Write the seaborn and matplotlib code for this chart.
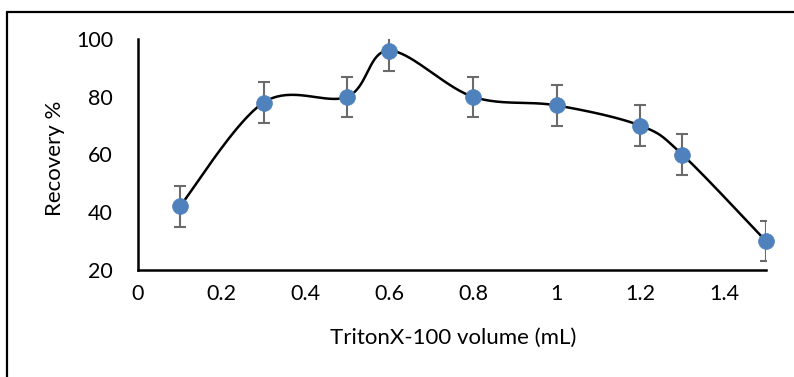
import numpy as np
import pandas as pd
import matplotlib
matplotlib.use("Agg")
import matplotlib.pyplot as plt
import seaborn as sns
from matplotlib.lines import Line2D

# Data
volume = [0.1, 0.3, 0.5, 0.6, 0.8, 1.0, 1.2, 1.3, 1.5]
recovery = [42, 78, 80, 96, 80, 77, 70, 60, 30]
error = [7, 7, 7, 7, 7, 7, 7, 7, 7]
x_ticks = [0, 0.2, 0.4, 0.6, 0.8, 1.0, 1.2, 1.4]
x_tick_labels = ["0", "0.2", "0.4", "0.6", "0.8", "1", "1.2", "1.4"]
y_ticks = [20, 40, 60, 80, 100]

sns.set_theme(style="white")
plt.rcParams["font.family"] = ["Lato", "DejaVu Sans"]

df = pd.DataFrame({"volume": volume, "recovery": recovery, "error": error})

# Excel-style smoothed line (Catmull-Rom Bezier through the points)
def smooth(xs, ys, n=40):
    P = np.column_stack([xs, ys]).astype(float)
    P = np.vstack([P[0], P, P[-1]])
    out = []
    for i in range(1, len(P) - 2):
        p0, p1, p2, p3 = P[i - 1], P[i], P[i + 1], P[i + 2]
        c1 = p1 + (p2 - p0) / 6.0
        c2 = p2 - (p3 - p1) / 6.0
        t = np.linspace(0, 1, n)[:, None]
        seg = ((1 - t) ** 3) * p1 + 3 * ((1 - t) ** 2) * t * c1 + 3 * (1 - t) * t ** 2 * c2 + t ** 3 * p2
        out.append(seg if i == 1 else seg[1:])
    return np.vstack(out)

curve = smooth(df["volume"], df["recovery"])
curve_df = pd.DataFrame({"x": curve[:, 0], "y": curve[:, 1]})

fig = plt.figure(figsize=(7.94, 3.77), dpi=100)
ax = fig.add_axes([138 / 794, 1 - 270 / 377, (766 - 138) / 794, (270 - 39) / 377])

sns.lineplot(data=curve_df, x="x", y="y", ax=ax, color="black", linewidth=1.8,
             sort=False, estimator=None, zorder=2)
ax.errorbar(df["volume"], df["recovery"], yerr=df["error"], fmt="none",
            ecolor="#6b6b6b", elinewidth=1.5, capsize=4.5, capthick=1.5, zorder=3)
sns.scatterplot(data=df, x="volume", y="recovery", ax=ax, color="#4f81bd",
                s=130, edgecolor="#4f81bd", linewidth=0.5, zorder=4, clip_on=False)

ax.set_xlim(0, 1.5)
ax.set_ylim(20, 100)
ax.set_xticks(x_ticks)
ax.set_xticklabels(x_tick_labels)
ax.set_yticks(y_ticks)
ax.tick_params(axis="both", length=0, labelsize=15.5, colors="black")
ax.tick_params(axis="x", pad=10)
ax.tick_params(axis="y", pad=18)

for s in ["top", "right"]:
    ax.spines[s].set_visible(False)
for s in ["left", "bottom"]:
    ax.spines[s].set_color("black")
    ax.spines[s].set_linewidth(1.8)

ax.set_xlabel("TritonX-100 volume (mL)", fontsize=16, color="black")
ax.set_ylabel("Recovery %", fontsize=16, color="black")
ax.xaxis.set_label_coords((453 - 138) / (766 - 138), -(328 - 270) / (270 - 39))
ax.yaxis.set_label_coords(-(138 - 65) / (766 - 138), (270 - 158) / (270 - 39))

# Outer chart border (top and left edges visible)
fig.add_artist(Line2D([7 / 794, 7 / 794], [0, 1 - 12 / 377], transform=fig.transFigure,
                      color="black", linewidth=1.6))
fig.add_artist(Line2D([7 / 794, 1], [1 - 12 / 377, 1 - 12 / 377], transform=fig.transFigure,
                      color="black", linewidth=1.6))

fig.savefig("out.png", dpi=100)
